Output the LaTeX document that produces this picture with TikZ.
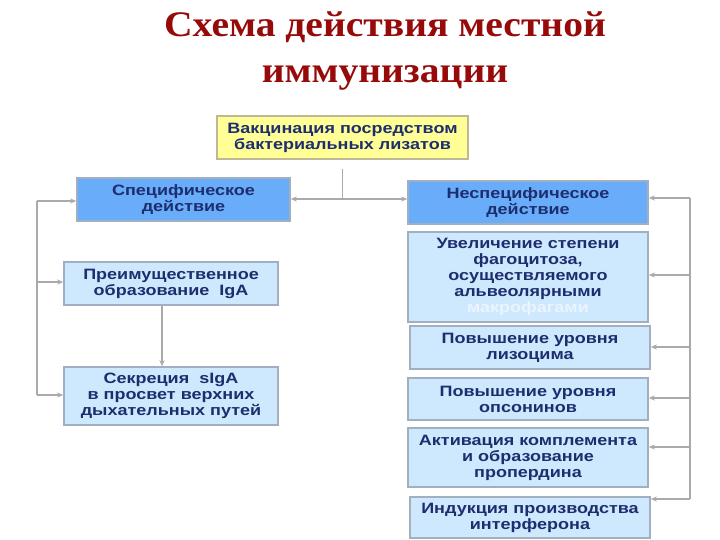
\documentclass[tikz,border=0pt]{standalone}
\usepackage{fontspec}
\setmainfont{Liberation Serif}
\newfontfamily\boxfont[FakeStretch=1.2]{Liberation Sans}
\newfontfamily\titlefont[FakeStretch=1.1]{Liberation Serif}
\usetikzlibrary{arrows.meta}
\definecolor{titlered}{RGB}{150,10,10}
\definecolor{navytext}{RGB}{30,45,110}
\definecolor{midblue}{RGB}{104,172,250}
\definecolor{lightblue}{RGB}{206,232,253}
\definecolor{paleyellow}{RGB}{255,255,150}
\definecolor{boxborder}{RGB}{160,176,192}
\definecolor{tanborder}{RGB}{190,184,150}
\definecolor{linegray}{RGB}{170,170,170}
\definecolor{paletext}{RGB}{236,244,255}
\tikzset{
  box/.style={draw=boxborder, line width=1.6pt, align=center, inner sep=0pt,
    text=navytext, font=\boxfont\bfseries\fontsize{15}{16}\selectfont},
  spec box/.style={box, fill=midblue},
  plain box/.style={box, fill=lightblue},
  conn/.style={draw=linegray, line width=1.4pt},
  arr/.style={conn, -{Stealth[length=6pt,width=5pt]}},
  titletext/.style={font=\titlefont\bfseries\fontsize{36}{46}\selectfont, text=titlered, anchor=base},
}
\begin{document}
\begin{tikzpicture}[x=1pt,y=-1pt]
\useasboundingbox (0,0) rectangle (720,540);
% title
\node[titletext] (title1) at (385,37) {Схема действия местной};
\node[titletext] (title2) at (385,83) {иммунизации};
% top box
\node[box, fill=paleyellow, draw=tanborder, minimum width=251pt, minimum height=43pt] (top) at (342.5,137.5)
  {Вакцинация посредством\\бактериальных лизатов};
% left column
\node[spec box, minimum width=213pt, minimum height=43pt] (spec) at (183.5,199.5)
  {Специфическое\\действие};
\node[plain box, minimum width=214pt, minimum height=43pt] (pre) at (171,283.5)
  {Преимущественное\\образование\ \ IgA};
\node[plain box, minimum width=214pt, minimum height=58pt] (sec) at (171,396)
  {Секреция\ \ sIgA\\в просвет верхних\\дыхательных путей};
% right column
\node[spec box, minimum width=240pt, minimum height=43pt] (nesp) at (528,202.5)
  {Неспецифическое\\действие};
\node[plain box, minimum width=240pt, minimum height=90pt] (uvel) at (528,277)
  {Увеличение степени\\фагоцитоза,\\осуществляемого\\альвеолярными\\\textcolor{paletext}{макрофагами}};
\node[plain box, minimum width=240pt, minimum height=43pt] (liz) at (530,347.5)
  {Повышение уровня\\лизоцима};
\node[plain box, minimum width=240pt, minimum height=42pt] (ops) at (528,399)
  {Повышение уровня\\опсонинов};
\node[plain box, minimum width=240pt, minimum height=59pt] (akt) at (528,457.5)
  {Активация комплемента\\и образование\\пропердина};
\node[plain box, minimum width=240pt, minimum height=41pt] (ind) at (530,517.5)
  {Индукция производства\\интерферона};
% top split
\coordinate (j) at (342.5,199);
\draw[conn] ([yshift=-9pt]top.south) -- (j);
\draw[arr] (j) -- (spec.east |- j);
\draw[arr] (j) -- (nesp.west |- j);
% left bus
\coordinate (lt) at (37,201);
\coordinate (lb) at (37,395);
\draw[conn] (lt) -- (lb);
\draw[arr] (lt) -- (spec.west |- lt);
\draw[arr] (37,282) -- (pre.west |- 0,282);
\draw[arr] (lb) -- (sec.west |- lb);
% pre to sec
\draw[arr] ([xshift=-9pt]pre.south) -- ([xshift=-9pt]sec.north);
% right bus
\coordinate (rt) at (690,198);
\coordinate (rb) at (690,499);
\draw[conn] (rt) -- (rb);
\draw[arr] (rt) -- (nesp.east |- rt);
\draw[arr] (690,275) -- (uvel.east |- 0,275);
\draw[arr] (690,347) -- (liz.east |- 0,347);
\draw[arr] (690,398) -- (ops.east |- 0,398);
\draw[arr] (690,447) -- (akt.east |- 0,447);
\draw[arr] (rb) -- (ind.east |- rb);
\end{tikzpicture}
\end{document}
